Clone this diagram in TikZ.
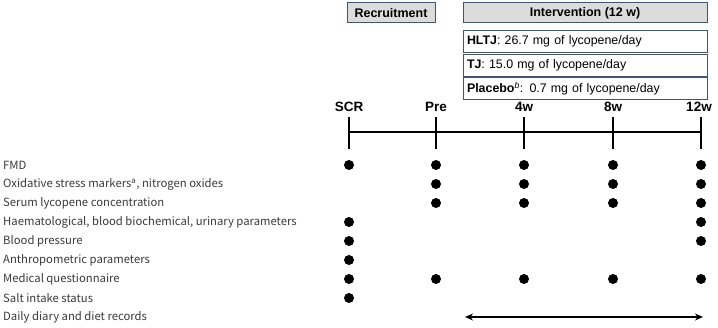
\documentclass[tikz,border=0pt]{standalone}
\usepackage{fontspec}
\setmainfont{Liberation Sans}
\newfontfamily\labfont{Noto Sans CJK JP}
\usetikzlibrary{arrows.meta}
\definecolor{bordc}{HTML}{44546A}
\definecolor{hdrfill}{HTML}{DCDCDC}
\definecolor{labc}{HTML}{3A3A3A}
\begin{document}
\begin{tikzpicture}[x=1pt,y=-1pt,
  hdr/.style={draw=bordc,line width=1pt,fill=hdrfill,inner sep=0pt,font=\bfseries\fontsize{12.5}{14}\selectfont},
  arm/.style={draw=bordc,line width=0.8pt,fill=white,inner sep=0pt,minimum height=22,minimum width=244,text width=236,align=left,font=\fontsize{12.4}{14}\selectfont},
  tp/.style={font=\bfseries\fontsize{13.5}{15}\selectfont,inner sep=0pt},
  rowlab/.style={anchor=west,inner sep=0pt,text=labc,font=\labfont\fontsize{11.3}{13}\selectfont},
  dotm/.style={circle,fill=black,inner sep=0pt,minimum size=10}]
\useasboundingbox (0,0) rectangle (718,328);
% header boxes
\node[hdr,minimum width=88,minimum height=20] (rec) at (391,13) {Recruitment};
\node[hdr,minimum width=244,minimum height=20] (int) at (585,13) {Intervention (12 w)};
\node[arm] (hltj) at (585,41.5) {\textbf{HLTJ}: 26.7 mg of lycopene/day};
\node[arm] (tj) at (585,65) {\textbf{TJ}: 15.0 mg of lycopene/day};
\node[arm] (plac) at (585,88.5) {\textbf{Placebo}\textsuperscript{\textit{b}}: 0.7 mg of lycopene/day};
% timepoints
\foreach \n/\x/\t in {scr/349/SCR,pre/436/Pre,w4/524/4w,w8/613/8w,w12/699/12w}{
  \node[tp] (l\n) at (\x,107) {\t};
}
\foreach \n/\x in {scr/349,pre/436,w4/524,w8/613,w12/701}{
  \coordinate (t\n) at (\x,117);
  \coordinate (b\n) at (\x,149);
  \coordinate (m\n) at (\x,132);
  \draw[line width=1.8pt] (t\n) -- (b\n);
}
\draw[line width=1.2pt] (mscr) -- (mw12);
% row labels
\node[rowlab] (r1) at (3,165) {FMD};
\node[rowlab] (r2) at (3,184) {Oxidative stress markers\textsuperscript{\textit{a}}, nitrogen oxides};
\node[rowlab] (r3) at (3,203) {Serum lycopene concentration};
\node[rowlab] (r4) at (3,222) {Haematological, blood biochemical, urinary parameters};
\node[rowlab] (r5) at (3,241) {Blood pressure};
\node[rowlab] (r6) at (3,260) {Anthropometric parameters};
\node[rowlab] (r7) at (3,279) {Medical questionnaire};
\node[rowlab] (r8) at (3,298) {Salt intake status};
\node[rowlab] (r9) at (3,317) {Daily diary and diet records};
% dots
\foreach \x in {349,436,524,613,701} \node[dotm] at (\x,165) {};
\foreach \x in {436,524,613,701} \node[dotm] at (\x,184) {};
\foreach \x in {436,524,613,701} \node[dotm] at (\x,203) {};
\foreach \x in {349,701} \node[dotm] at (\x,222) {};
\foreach \x in {349,701} \node[dotm] at (\x,241) {};
\node[dotm] at (349,260) {};
\foreach \x in {349,436,524,613,701} \node[dotm] at (\x,279) {};
\node[dotm] at (349,298) {};
% diary arrow
\coordinate (da) at (465,317);
\coordinate (db) at (703,317);
\draw[line width=2pt,{Stealth[length=8pt,width=7pt]}-{Stealth[length=8pt,width=7pt]}] (da) -- (db);
\end{tikzpicture}
\end{document}
